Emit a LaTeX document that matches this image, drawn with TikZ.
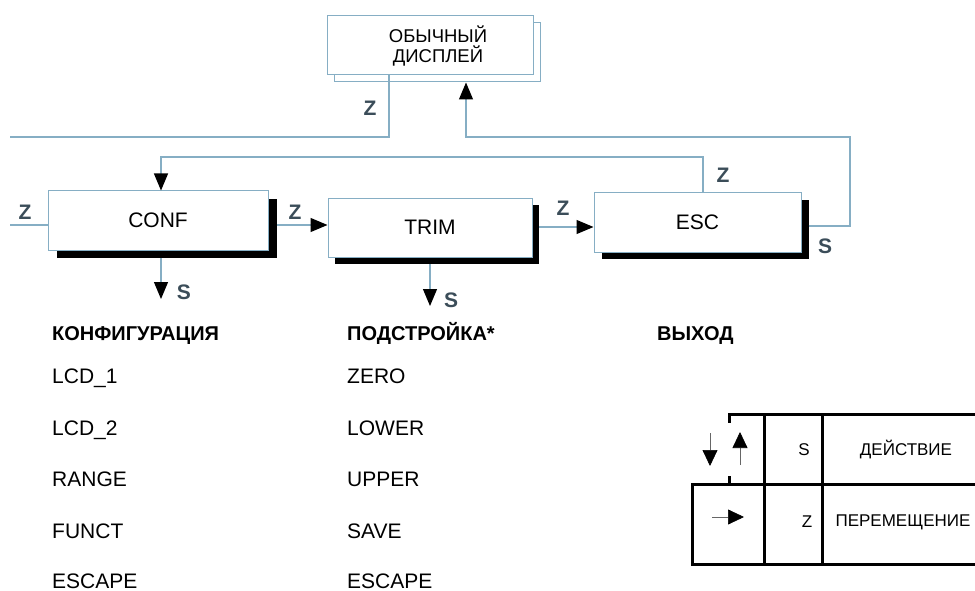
\documentclass[tikz,border=0pt]{standalone}
\usepackage{fontspec}
\setmainfont{Liberation Sans}
\usetikzlibrary{arrows.meta}
\definecolor{lineblue}{HTML}{86AEC4}
\definecolor{labelgray}{HTML}{3B4D59}
\begin{document}
\begin{tikzpicture}[x=1pt,y=-1pt,
  box/.style={draw=lineblue, fill=white, line width=1pt, minimum height=59pt, inner sep=0pt, font=\fontsize{21}{24}\selectfont},
  backbox/.style={draw=lineblue, fill=white, line width=1pt, minimum height=59pt, inner sep=0pt},
  shadowbox/.style={fill=black, inner sep=0pt, minimum height=59pt},
  conn/.style={draw=lineblue, line width=1.2pt},
  arr/.style={-{Triangle[length=17pt,width=14pt,color=black]}},
  lbl/.style={font=\bfseries\fontsize{21}{21}\selectfont, text=labelgray, inner sep=0pt},
  item/.style={anchor=base west, inner sep=0pt, font=\fontsize{21}{21}\selectfont},
  head/.style={anchor=base west, inner sep=0pt, font=\bfseries\fontsize{20}{20}\selectfont},
  legtxt/.style={inner sep=0pt, font=\fontsize{17}{17}\selectfont},
  legline/.style={line width=3pt, line cap=rect},
  legarr/.style={line width=0.7pt, draw=black!60, -{Triangle[length=16pt,width=15pt,color=black]}}
]
\useasboundingbox (0,0) rectangle (975,591);

% top box
\node[backbox, minimum width=206pt] (dispback) at (437,52.5) {};
\node[box, minimum width=206pt, align=center, font=\fontsize{18.5}{20}\selectfont] (disp) at (430,45.5) {\hspace*{16pt}ОБЫЧНЫЙ\\\hspace*{16pt}ДИСПЛЕЙ};

% main boxes
\node[shadowbox, minimum width=220pt] (confsh) at (167,228.5) {};
\node[box, minimum width=220pt] (conf) at (158,220.5) {CONF};
\node[shadowbox, minimum width=204pt] (trimsh) at (437,234.5) {};
\node[box, minimum width=204pt] (trim) at (430,227.5) {TRIM};
\node[shadowbox, minimum width=207pt] (escsh) at (705,229.5) {};
\node[box, minimum width=207pt] (esc) at (697.5,222.5) {ESC};

% coordinates
\coordinate (z1) at (389,137);
\coordinate (zl) at (10,137);
\coordinate (u1) at (466,137);
\coordinate (u2) at (850,137);
\coordinate (u3) at (850,226);
\coordinate (e1) at (703,157);
\coordinate (e2) at (161,157);
\coordinate (lz) at (10,225);
\coordinate (ct) at (0,225);
\coordinate (te) at (0,227);
\coordinate (cs) at (161,299);
\coordinate (ts) at (430,306);

% connectors
\draw[conn] (disp.south -| z1) -- (z1) -- (zl);
\draw[conn,arr] (escsh.east |- u3) -- (u3) -- (u2) -- (u1) -- (dispback.south -| u1);
\draw[conn,arr] (esc.north -| e1) -- (e1) -- (e2) -- (conf.north -| e2);
\draw[conn] (lz) -- (conf.west |- lz);
\draw[conn,arr] (confsh.east |- ct) -- (trim.west |- ct);
\draw[conn,arr] (trimsh.east |- te) -- (esc.west |- te);
\draw[conn,arr] (confsh.south -| cs) -- (cs);
\draw[conn,arr] (trimsh.south -| ts) -- (ts);

% labels
\node[lbl] (lz1) at (370,108) {Z};
\node[lbl] (lz2) at (723,175) {Z};
\node[lbl] (lz3) at (25,212) {Z};
\node[lbl] (lz4) at (295,212) {Z};
\node[lbl] (lz5) at (563,208) {Z};
\node[lbl] (ls1) at (825,246) {S};
\node[lbl] (ls2) at (184,292) {S};
\node[lbl] (ls3) at (451,300) {S};

% lists
\node[head] (h1) at (52,340) {КОНФИГУРАЦИЯ};
\node[head] (h2) at (347,340) {ПОДСТРОЙКА*};
\node[head] (h3) at (657,340) {ВЫХОД};
\node[item] (a1) at (52,383) {LCD\_1};
\node[item] (a2) at (52,435) {LCD\_2};
\node[item] (a3) at (52,486) {RANGE};
\node[item] (a4) at (52,538) {FUNCT};
\node[item] (a5) at (52,588) {ESCAPE};
\node[item] (b1) at (347,383) {ZERO};
\node[item] (b2) at (347,435) {LOWER};
\node[item] (b3) at (347,486) {UPPER};
\node[item] (b4) at (347,538) {SAVE};
\node[item] (b5) at (347,588) {ESCAPE};

% legend table
\draw[legline] (729,421) -- (729,414) -- (978,414);
\draw[legline] (729,477) -- (729,484);
\draw[legline] (978,484) -- (692,484) -- (692,564) -- (978,564);
\draw[legline] (764,414) -- (764,564);
\draw[legline] (822,414) -- (822,564);
\coordinate (da1) at (710,433);
\coordinate (da2) at (710,466);
\coordinate (ua1) at (740,465);
\coordinate (ua2) at (740,432);
\coordinate (ra1) at (712,517);
\coordinate (ra2) at (744,517);
\draw[legarr] (da1) -- (da2);
\draw[legarr] (ua1) -- (ua2);
\draw[legarr] (ra1) -- (ra2);
\node[legtxt] (ts1) at (804,450) {S};
\node[legtxt] (tt1) at (906,450) {ДЕЙСТВИЕ};
\node[legtxt] (ts2) at (807,522) {Z};
\node[legtxt] (tt2) at (903,522) {ПЕРЕМЕЩЕНИЕ};
\end{tikzpicture}
\end{document}
